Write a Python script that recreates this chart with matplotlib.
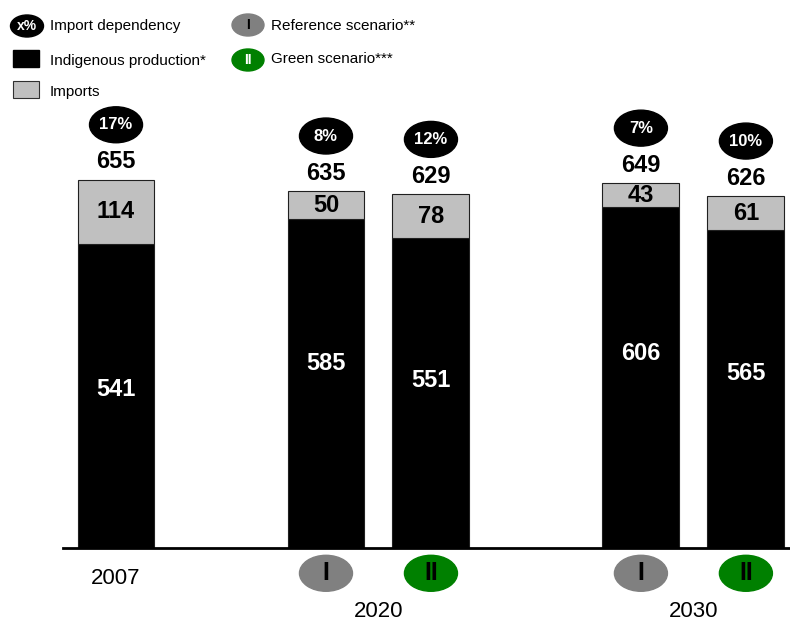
import matplotlib.pyplot as plt
from matplotlib.patches import Ellipse, Rectangle

plt.rcParams['font.family'] = ['Liberation Sans', 'DejaVu Sans']

# columns: 2007, 2020 ref, 2020 green, 2030 ref, 2030 green
scenario = ['', 'I', 'II', 'I', 'II']
indigenous = [541, 585, 551, 606, 565]
imports = [114, 50, 78, 43, 61]
dependency = ['17%', '8%', '12%', '7%', '10%']
years = ['2007', '2020', '2030']

pos = [0, 2, 3, 5, 6]
year_pos = [0, 2.5, 5.5]
label_frac = [0.52, 0.56, 0.54, 0.57, 0.55]
width = 0.733
imp_color = '#c0c0c0'
sc_colors = {'I': '#808080', 'II': '#008000'}

fig = plt.figure(figsize=(7.9, 6.21), dpi=100)
ax = fig.add_axes([63 / 790, 73 / 621, 727 / 790, 548 / 621])
ax.set_xlim(-0.505, 6.42)
ax.set_ylim(0, 975)
ax.axis('off')

ax.bar(pos, indigenous, width, color='black', edgecolor='#202020', linewidth=0.8, zorder=2)
ax.bar(pos, imports, width, bottom=indigenous, color=imp_color,
       edgecolor='#202020', linewidth=0.8, zorder=2)
ax.plot([-0.505, 6.42], [0, 0], color='black', lw=2, clip_on=False, zorder=3)

for x, ind, imp, dep, f in zip(pos, indigenous, imports, dependency, label_frac):
    total = ind + imp
    ax.text(x, ind * f, str(ind), color='white', fontsize=17, fontweight='bold',
            ha='center', va='center', zorder=4)
    ax.text(x, ind + imp / 2, str(imp), color='black', fontsize=17, fontweight='bold',
            ha='center', va='center', zorder=4)
    ax.text(x, total + 32, str(total), color='black', fontsize=17, fontweight='bold',
            ha='center', va='center', zorder=4)
    ax.add_patch(Ellipse((x, total + 98), 0.505, 64, color='black', zorder=3))
    ax.text(x, total + 98, dep, color='white', fontsize=12, fontweight='bold',
            ha='center', va='center', zorder=4)

# scenario badges under the axis
for x, sc in zip(pos, scenario):
    if not sc:
        continue
    ax.add_patch(Ellipse((x, -45), 0.505, 64, color=sc_colors[sc], clip_on=False, zorder=3))
    ax.text(x, -45, sc, color='black', fontsize=18, fontweight='bold',
            ha='center', va='center', zorder=4)

ax.text(year_pos[0], -54, years[0], fontsize=16, ha='center', va='center')
for x, yr in zip(year_pos[1:], years[1:]):
    ax.text(x, -113, yr, fontsize=16, ha='center', va='center')

# legend, drawn in figure pixels
lg = fig.add_axes([0, 0, 1, 1])
lg.set_xlim(0, 790)
lg.set_ylim(621, 0)
lg.axis('off')
lg.patch.set_visible(False)

lg.add_patch(Ellipse((27, 26), 33, 22, color='black'))
lg.text(27, 26, 'x%', color='white', fontsize=10, fontweight='bold', ha='center', va='center')
lg.text(50, 26, 'Import dependency', fontsize=11, va='center')
lg.add_patch(Rectangle((13, 50), 26, 17, facecolor='black', edgecolor='black'))
lg.text(50, 61, 'Indigenous production*', fontsize=11, va='center')
lg.add_patch(Rectangle((13, 81), 26, 17, facecolor=imp_color, edgecolor='#303030', lw=0.8))
lg.text(50, 92, 'Imports', fontsize=11, va='center')

lg.add_patch(Ellipse((248, 25), 32, 22, color=sc_colors['I']))
lg.text(248, 25, 'I', fontsize=10, fontweight='bold', ha='center', va='center')
lg.text(271, 26, 'Reference scenario**', fontsize=11, va='center')
lg.add_patch(Ellipse((248, 60), 32, 22, color=sc_colors['II']))
lg.text(248, 60, 'II', color='white', fontsize=10, fontweight='bold', ha='center', va='center')
lg.text(271, 59, 'Green scenario***', fontsize=11, va='center')

fig.savefig('out.png', dpi=100)
